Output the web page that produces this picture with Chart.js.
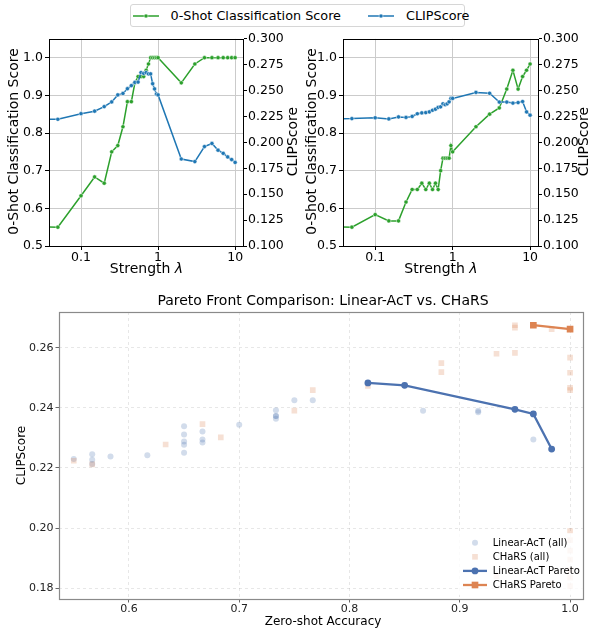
<!DOCTYPE html>
<html>
<head>
<meta charset="utf-8">
<script src="https://cdn.jsdelivr.net/npm/chart.js@4.4.1/dist/chart.umd.min.js"></script>
<style>
  html, body { margin: 0; padding: 0; background: #fff; }
  body { width: 589px; height: 630px; position: relative; overflow: hidden; font-family: "DejaVu Sans", sans-serif; }
  .abs { position: absolute; }
  .legbox { position: absolute; left: 130px; top: 4px; width: 335px; height: 23px; box-sizing: border-box; border: 1px solid #d6d6d6; border-radius: 3px; background: #fff; }
  .legtxt { position: absolute; top: 4px; height: 23px; line-height: 23px; font-size: 12.8px; color: #000; white-space: nowrap; }
  canvas { display: block; }
</style>
</head>
<body>
<!-- top legend -->
<div class="legbox"></div>
<svg class="abs" style="left:133px;top:10.5px" width="26" height="10"><line x1="0" y1="5" x2="26" y2="5" stroke="#2ca02c" stroke-width="1.5"/><circle cx="13" cy="5" r="2" fill="#2ca02c" stroke="#fff" stroke-width="0.5"/></svg>
<div class="legtxt" style="left:170.5px">0-Shot Classification Score</div>
<svg class="abs" style="left:368px;top:10.5px" width="26" height="10"><line x1="0" y1="5" x2="26" y2="5" stroke="#1f77b4" stroke-width="1.5"/><circle cx="13" cy="5" r="2" fill="#1f77b4" stroke="#fff" stroke-width="0.5"/></svg>
<div class="legtxt" style="left:406px">CLIPScore</div>

<div class="abs" style="left:0;top:30px;width:300px;height:262px"><canvas id="cLeft" width="300" height="262"></canvas></div>
<div class="abs" style="left:290px;top:30px;width:299px;height:262px"><canvas id="cRight" width="299" height="262"></canvas></div>
<div class="abs" style="left:0;top:290px;width:589px;height:340px"><canvas id="cBottom" width="589" height="340"></canvas></div>

<script>
// ---------------- data ----------------
const lambdas = [0, 0.05, 0.1, 0.15, 0.2, 0.25, 0.3, 0.35, 0.4, 0.45, 0.5, 0.55, 0.6, 0.65, 0.7, 0.75, 0.8, 0.85, 0.9, 0.95, 1, 2, 3, 4, 5, 6, 7, 8, 9, 10];

// CHaRS sweep (top-left panel)
const charsAcc  = [0.5667, 0.55, 0.6333, 0.6833, 0.6667, 0.75, 0.7667, 0.8167, 0.8833, 0.8833, 0.9333, 0.95, 0.95, 0.95, 0.9667, 0.9833, 1, 1, 1, 1, 1, 0.9333, 0.9833, 1, 1, 1, 1, 1, 1, 1];
const charsClip = [0.2212, 0.2224, 0.2278, 0.2302, 0.2346, 0.2391, 0.2459, 0.2473, 0.2519, 0.2549, 0.258, 0.2583, 0.2675, 0.2667, 0.2675, 0.2662, 0.2662, 0.2567, 0.2517, 0.2467, 0.2459, 0.184, 0.1815, 0.196, 0.199, 0.1925, 0.1895, 0.186, 0.1835, 0.1807];

// Linear-AcT sweep (top-right panel)
const linearAcc  = [0.5667, 0.55, 0.5833, 0.5667, 0.5667, 0.6167, 0.65, 0.65, 0.6667, 0.65, 0.6667, 0.65, 0.6667, 0.65, 0.7, 0.7333, 0.7333, 0.7333, 0.7333, 0.7667, 0.75, 0.8167, 0.85, 0.8667, 0.9167, 0.9667, 0.9167, 0.95, 0.9667, 0.9833];
const linearClip = [0.2213, 0.223, 0.2238, 0.2227, 0.2246, 0.2242, 0.2251, 0.2277, 0.2285, 0.2288, 0.2295, 0.2311, 0.2321, 0.2339, 0.2344, 0.2373, 0.2364, 0.2373, 0.2392, 0.2425, 0.2425, 0.2483, 0.2475, 0.239, 0.239, 0.238, 0.2385, 0.2395, 0.2295, 0.2263];

// Pareto fronts
const linearParetoAcc  = [0.8167, 0.85, 0.95, 0.9667, 0.9833];
const linearParetoClip = [0.2483, 0.2475, 0.2395, 0.238, 0.2263];
const charsParetoAcc   = [0.9667, 1.0];
const charsParetoClip  = [0.2675, 0.2662];

// tick values
const lambdaTicks = [0.1, 1, 10];
const accTicks = [0.5, 0.6, 0.7, 0.8, 0.9, 1.0];
const clipTicks = [0.1, 0.125, 0.15, 0.175, 0.2, 0.225, 0.25, 0.275, 0.3];
const paretoAccTicks = [0.6, 0.7, 0.8, 0.9, 1.0];
const paretoClipTicks = [0.18, 0.2, 0.22, 0.24, 0.26];

// ---------------- style ----------------
const GREEN = '#2ca02c', BLUE = '#1f77b4';
const DEEP_BLUE = '#4C72B0', DEEP_ORANGE = '#DD8452';
const FAINT_BLUE = 'rgba(76,114,176,0.25)', FAINT_ORANGE = 'rgba(221,132,82,0.25)';
const FONT = '"DejaVu Sans", sans-serif';
Chart.defaults.font.family = FONT;
Chart.defaults.color = '#000';

// like matplotlib's log "clip" of non-positive values: λ=0 lands far to the left
const NONPOS = 1e-9;
const LAMBDA_MIN = 0.0384, LAMBDA_MAX = 13.03;

const setTicks = vals => scale => { scale.ticks = vals.map(v => ({ value: v })); };

function drawText(ctx, t) {
  ctx.save();
  ctx.translate(t.x, t.y);
  if (t.rot) ctx.rotate(t.rot);
  ctx.fillStyle = t.color || '#000';
  ctx.textBaseline = 'middle';
  ctx.textAlign = 'left';
  const parts = t.parts || [{ text: t.text, font: t.font }];
  let total = 0;
  parts.forEach(p => { ctx.font = p.font; p.w = ctx.measureText(p.text).width; total += p.w; });
  let x = -total / 2;
  parts.forEach(p => { ctx.font = p.font; ctx.fillText(p.text, x, 0); x += p.w; });
  ctx.restore();
}

function drawMarker(ctx, style, x, y, r, color) {
  ctx.fillStyle = color;
  ctx.beginPath();
  if (style === 'rect') {
    const s = Math.SQRT1_2 * r;
    ctx.rect(x - s, y - s, 2 * s, 2 * s);
  } else {
    ctx.arc(x, y, r, 0, Math.PI * 2);
  }
  ctx.fill();
}

function makeDecor(cfg) {
  return {
    id: 'decor',
    afterDraw(chart) {
      const ctx = chart.ctx, a = chart.chartArea;
      ctx.save();
      if (cfg.legend) {
        const L = cfg.legend;
        ctx.fillStyle = 'rgba(255,255,255,0.8)';
        ctx.fillRect(L.x, L.y, L.w, L.h);
        L.rows.forEach((row, i) => {
          const y = L.firstRow + i * L.step;
          if (row.line) {
            ctx.strokeStyle = row.color; ctx.lineWidth = row.lineWidth;
            ctx.beginPath(); ctx.moveTo(L.handleX0, y); ctx.lineTo(L.handleX1, y); ctx.stroke();
          }
          drawMarker(ctx, row.style, L.markerX, y, row.radius, row.color);
          ctx.fillStyle = '#000';
          ctx.font = L.font;
          ctx.textBaseline = 'middle';
          ctx.textAlign = 'left';
          ctx.fillText(row.label, L.textX, y + 0.5);
        });
      }
      if (cfg.frame) {
        ctx.strokeStyle = cfg.frame.color;
        ctx.lineWidth = cfg.frame.width;
        const l = Math.round(a.left) + 0.5, t = Math.round(a.top) + 0.5;
        const r = Math.round(a.right) - 0.5, b = Math.round(a.bottom) + 0.5;
        ctx.strokeRect(l, t, r - l, b - t);
      }
      (cfg.texts || []).forEach(t => drawText(ctx, t));
      ctx.restore();
    }
  };
}

// ---------------- top panels ----------------
function strengthChart(id, acc, clip, geo) {
  const toPts = arr => lambdas.map((l, i) => ({ x: l > 0 ? l : NONPOS, y: arr[i] }));
  const lineDs = (label, arr, color, axis, order) => ({
    label, data: toPts(arr), yAxisID: axis, showLine: true,
    borderColor: color, backgroundColor: color, borderWidth: 1.5,
    pointRadius: 2.1, pointBackgroundColor: color, pointBorderColor: '#fff', pointBorderWidth: 0.5,
    order
  });
  const tickFont = { size: 12.5, lineHeight: 1.1 };
  return new Chart(document.getElementById(id), {
    type: 'scatter',
    data: { datasets: [
      lineDs('CLIPScore', clip, BLUE, 'y1', 0),
      lineDs('0-Shot Classification Score', acc, GREEN, 'y', 1)
    ] },
    options: {
      responsive: false, animation: false, events: [],
      layout: { padding: { top: geo.top, left: 0, right: 0, bottom: 0 } },
      plugins: { legend: { display: false }, tooltip: { enabled: false } },
      scales: {
        x: {
          type: 'logarithmic', min: LAMBDA_MIN, max: LAMBDA_MAX,
          afterBuildTicks: setTicks(lambdaTicks),
          afterFit: s => { s.height = geo.xh; },
          ticks: { callback: v => String(v), font: tickFont, padding: 1, maxRotation: 0, autoSkip: false },
          grid: { color: '#cbcbcb', lineWidth: 1, tickColor: '#000', tickLength: 4 },
          border: { display: false }
        },
        y: {
          position: 'left', min: 0.5, max: 1.05,
          afterBuildTicks: setTicks(accTicks),
          afterFit: s => { s.width = geo.lw; },
          ticks: { callback: v => v.toFixed(1), font: tickFont, padding: 2 },
          grid: { color: '#cbcbcb', lineWidth: 1, tickColor: '#000', tickLength: 4 },
          border: { display: false }
        },
        y1: {
          position: 'right', min: 0.1, max: 0.3,
          afterBuildTicks: setTicks(clipTicks),
          afterFit: s => { s.width = geo.rw; },
          ticks: { callback: v => v.toFixed(3), font: tickFont, padding: 1 },
          grid: { drawOnChartArea: false, tickColor: '#000', tickLength: 3 },
          border: { display: false }
        }
      }
    },
    plugins: [makeDecor({
      frame: { color: '#000', width: 1 },
      texts: [
        { text: '0-Shot Classification Score', font: '14px ' + FONT, x: geo.leftTitleX, y: geo.midY, rot: -Math.PI / 2 },
        { text: 'CLIPScore', font: '14px ' + FONT, x: geo.rightTitleX, y: geo.midY, rot: -Math.PI / 2 },
        { parts: [{ text: 'Strength ', font: '14px ' + FONT }, { text: 'λ', font: 'italic 14px ' + FONT }], x: geo.xTitleX, y: geo.xTitleY }
      ]
    })]
  });
}

strengthChart('cLeft', charsAcc, charsClip, {
  top: 7, xh: 46, lw: 49, rw: 56,
  leftTitleX: 14, rightTitleX: 293, midY: 111.5, xTitleX: 146.5, xTitleY: 239
});
strengthChart('cRight', linearAcc, linearClip, {
  top: 7, xh: 46, lw: 53, rw: 50,
  leftTitleX: 22, rightTitleX: 294, midY: 111.5, xTitleX: 151, xTitleY: 239
});

// ---------------- bottom panel ----------------
const pts = (xs, ys) => xs.map((x, i) => ({ x, y: ys[i] }));
new Chart(document.getElementById('cBottom'), {
  type: 'scatter',
  data: { datasets: [
    { label: 'Linear-AcT (all)', data: pts(linearAcc, linearClip), pointStyle: 'circle', pointRadius: 3,
      backgroundColor: FAINT_BLUE, borderWidth: 0, order: 4 },
    { label: 'CHaRS (all)', data: pts(charsAcc, charsClip), pointStyle: 'rect', pointRadius: 4,
      backgroundColor: FAINT_ORANGE, borderWidth: 0, order: 3 },
    { label: 'Linear-AcT Pareto', data: pts(linearParetoAcc, linearParetoClip), showLine: true,
      borderColor: DEEP_BLUE, backgroundColor: DEEP_BLUE, borderWidth: 2.3, pointStyle: 'circle', pointRadius: 3.4,
      pointBorderWidth: 0, order: 1 },
    { label: 'CHaRS Pareto', data: pts(charsParetoAcc, charsParetoClip), showLine: true,
      borderColor: DEEP_ORANGE, backgroundColor: DEEP_ORANGE, borderWidth: 2.3, pointStyle: 'rect', pointRadius: 4.7,
      pointBorderWidth: 0, order: 0 }
  ] },
  options: {
    responsive: false, animation: false, events: [],
    layout: { padding: { top: 22, left: 0, right: 2, bottom: 0 } },
    plugins: { legend: { display: false }, tooltip: { enabled: false } },
    scales: {
      x: {
        type: 'linear', min: 0.5366, max: 1.0129,
        afterBuildTicks: setTicks(paretoAccTicks),
        afterFit: s => { s.height = 31; },
        ticks: { callback: v => v.toFixed(1), font: { size: 11, lineHeight: 1.1 }, padding: 1, maxRotation: 0, autoSkip: false, color: '#222' },
        grid: { color: 'rgba(0,0,0,0.12)', lineWidth: 0.8, tickColor: '#666', tickLength: 3.5, tickWidth: 1 },
        border: { display: false, dash: [3, 3] }
      },
      y: {
        type: 'linear', min: 0.1764, max: 0.2719,
        afterBuildTicks: setTicks(paretoClipTicks),
        afterFit: s => { s.width = 59; },
        ticks: { callback: v => v.toFixed(2), font: { size: 11, lineHeight: 1.1 }, padding: 2, color: '#222' },
        grid: { color: 'rgba(0,0,0,0.12)', lineWidth: 0.8, tickColor: '#666', tickLength: 3.5, tickWidth: 1 },
        border: { display: false, dash: [3, 3] }
      }
    }
  },
  plugins: [makeDecor({
    frame: { color: '#8a8a8a', width: 1.2 },
    legend: {
      x: 458, y: 243, w: 128, h: 62, firstRow: 252.7, step: 14.1,
      handleX0: 463, handleX1: 487, markerX: 475, textX: 492.7, font: '10px ' + FONT,
      rows: [
        { label: 'Linear-AcT (all)', style: 'circle', radius: 3, color: FAINT_BLUE },
        { label: 'CHaRS (all)', style: 'rect', radius: 4, color: FAINT_ORANGE },
        { label: 'Linear-AcT Pareto', style: 'circle', radius: 3.4, color: DEEP_BLUE, line: true, lineWidth: 2.3 },
        { label: 'CHaRS Pareto', style: 'rect', radius: 4.7, color: DEEP_ORANGE, line: true, lineWidth: 2.3 }
      ]
    },
    texts: [
      { text: 'Pareto Front Comparison: Linear-AcT vs. CHaRS', font: '14px ' + FONT, x: 323, y: 11 },
      { text: 'Zero-shot Accuracy', font: '12px ' + FONT, x: 323, y: 332 },
      { text: 'CLIPScore', font: '12px ' + FONT, x: 22, y: 165.5, rot: -Math.PI / 2 }
    ]
  })]
});
</script>
</body>
</html>
